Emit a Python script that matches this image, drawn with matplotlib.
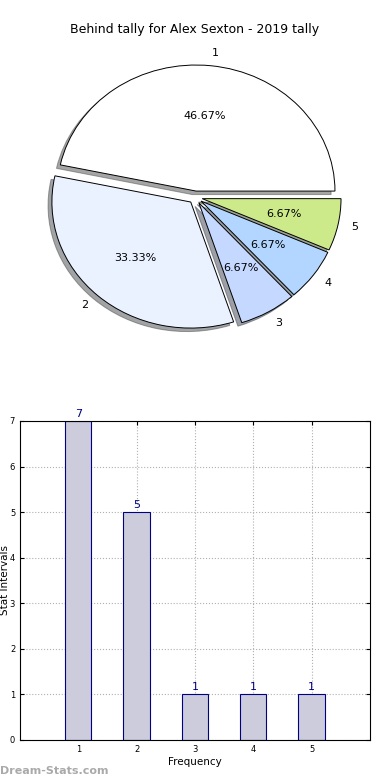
import matplotlib
matplotlib.use('Agg')
import matplotlib.pyplot as plt

# data
categories = ['1', '2', '3', '4', '5']
counts = [7, 5, 1, 1, 1]
pie_colors = ['#ffffff', '#eaf1ff', '#c5d8ff', '#b2d6ff', '#cdea8a']
title = 'Behind tally for Alex Sexton - 2019 tally'

fig = plt.figure(figsize=(3.9, 7.8), dpi=100)

# pie on top
ax1 = fig.add_axes([0.056, 0.545, 0.89, 0.404])
wedges, texts, autotexts = ax1.pie(counts, labels=categories, colors=pie_colors,
                                   explode=[0.05] * len(counts), shadow=True,
                                   autopct='%.2f%%', startangle=0,
                                   wedgeprops={'edgecolor': 'black', 'linewidth': 0.7},
                                   textprops={'fontsize': 8})
ax1.set_aspect('auto')
ax1.set_xlim(-1.25, 1.25)
ax1.set_ylim(-1.25, 1.25)
fig.text(0.5, 0.962, title, ha='center', va='center', fontsize=9)

# bar chart below
ax2 = fig.add_axes([0.0513, 0.0513, 0.897, 0.409])
x = list(range(1, len(counts) + 1))
bars = ax2.bar(x, counts, width=0.45, color='#ccccdd', edgecolor='#000080', linewidth=0.8, zorder=2)
for xi, c in zip(x, counts):
    ax2.text(xi, c + 0.05, str(c), ha='center', va='bottom', color='#000080', fontsize=8)

ax2.set_xlim(0, 6)
ax2.set_ylim(0, 7)
ax2.set_xticks(x)
ax2.set_xticklabels(categories)
ax2.set_yticks(range(0, 8))
ax2.tick_params(labelsize=6, direction='in', top=True, right=True, length=3)
ax2.grid(True, linestyle=':', color='#b0b0b0', linewidth=0.8, zorder=0)
ax2.set_axisbelow(True)
ax2.set_xlabel('Frequency', fontsize=7.5, labelpad=2)
ax2.set_ylabel('Stat Intervals', fontsize=7.5)
ax2.yaxis.set_label_coords(-0.03, 0.5)

fig.text(0.0, 0.012, 'Dream-Stats.com', ha='left', va='center', fontsize=8,
         color='#aaaaaa', fontweight='bold')

fig.savefig('out.png', dpi=100)
